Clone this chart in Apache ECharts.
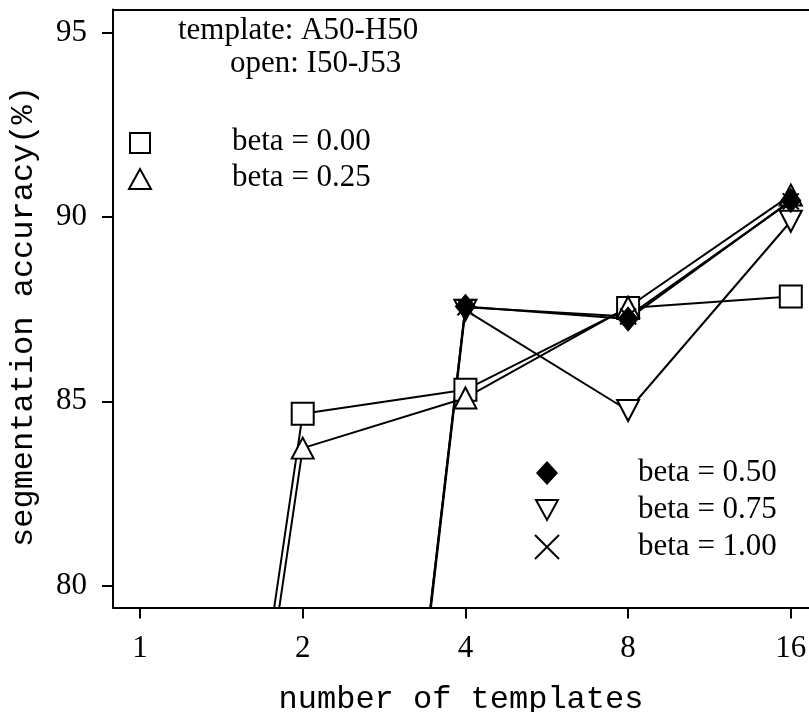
<!DOCTYPE html>
<html>
<head>
<meta charset="utf-8">
<script src="https://cdn.jsdelivr.net/npm/echarts@6/dist/echarts.min.js"></script>
<style>
  html, body { margin: 0; padding: 0; background: #fff; }
  #chart { width: 809px; height: 712px; }
</style>
</head>
<body>
<div id="chart"></div>
<script>
// Number of templates (x) and segmentation accuracy in % (y) for each beta
const templates = [1, 2, 4, 8, 16];
const betaNames = ['beta = 0.00', 'beta = 0.25', 'beta = 0.50', 'beta = 0.75', 'beta = 1.00'];
const acc000 = [54.7, 84.66, 85.31, 87.53, 87.84];
const acc025 = [53.7, 83.73, 85.09, 87.55, 90.59];
const acc050 = [null, 49.6, 87.57, 87.23, 90.44];
const acc075 = [null, 49.4, 87.47, 84.75, 89.88];
const acc100 = [null, 49.8, 87.55, 87.30, 90.42];
const xTickValues = [1, 2, 4, 8, 16];
const yTickValues = [80, 85, 90, 95];
const noteLines = ['template: A50-H50', 'open: I50-J53'];

const SERIF = "'Liberation Serif', 'Times New Roman', serif";
const MONO = "'Liberation Mono', 'Courier New', monospace";
const TEXT_FONT = '31px ' + SERIF;

function pairs(values) {
  const out = [];
  templates.forEach((t, i) => { if (values[i] != null) out.push([t, values[i]]); });
  return out;
}

const openMarker = { color: '#fff', borderColor: '#000', borderWidth: 2 };
function lineSeries(name, values, symbol, size, itemStyle, extra) {
  return Object.assign({
    name: name,
    type: 'line',
    xAxisIndex: 0,
    yAxisIndex: 0,
    data: pairs(values),
    symbol: symbol,
    symbolSize: size,
    showAllSymbol: true,
    clip: true,
    lineStyle: { color: '#000', width: 2 },
    itemStyle: itemStyle,
    emphasis: { disabled: true },
    animation: false
  }, extra || {});
}

const series = [
  lineSeries(betaNames[0], acc000, 'rect', 22, openMarker),
  lineSeries(betaNames[1], acc025, 'triangle', [22, 21], openMarker),
  lineSeries(betaNames[3], acc075, 'triangle', [22, 21], openMarker, { symbolRotate: 180 }),
  lineSeries(betaNames[4], acc100, 'path://M0,0L10,10M10,0L0,10', 16,
    { color: 'none', borderColor: '#000', borderWidth: 2 }),
  lineSeries(betaNames[2], acc050, 'diamond', [20, 24],
    { color: '#000', borderColor: '#000', borderWidth: 1 })
];

// notes and legend keys
function label(text, x, y) {
  return { type: 'text', x: x, y: y, style: { text: text, font: TEXT_FONT, fill: '#000', verticalAlign: 'middle' } };
}
const keyStroke = { stroke: '#000', lineWidth: 2, fill: '#fff' };
const graphic = [
  label(noteLines[0], 178, 31),
  label(noteLines[1], 230, 64),

  { type: 'rect', shape: { x: 130, y: 133, width: 20, height: 20 }, style: keyStroke },
  label(betaNames[0], 232, 142),
  { type: 'polygon', shape: { points: [[129, 189], [140, 169], [151, 189]] }, style: keyStroke },
  label(betaNames[1], 232, 178),

  { type: 'polygon', shape: { points: [[547, 461], [558, 473], [547, 485], [536, 473]] }, style: { fill: '#000' } },
  label(betaNames[2], 638, 473),
  { type: 'polygon', shape: { points: [[536, 500], [558, 500], [547, 520]] }, style: keyStroke },
  label(betaNames[3], 638, 510),
  { type: 'polyline', shape: { points: [[535, 535], [559, 559]] }, style: { stroke: '#000', lineWidth: 2 } },
  { type: 'polyline', shape: { points: [[559, 535], [535, 559]] }, style: { stroke: '#000', lineWidth: 2 } },
  label(betaNames[4], 638, 547)
];

const chart = echarts.init(document.getElementById('chart'), null, { renderer: 'canvas' });
chart.setOption({
  backgroundColor: '#fff',
  animation: false,
  grid: {
    left: 113, top: 9.5, width: 696, height: 598,
    outerBoundsMode: 'none',
    show: false
  },
  xAxis: [{
    type: 'log',
    logBase: 2,
    min: 0.8913,
    max: 17.29,
    name: 'number of templates',
    nameLocation: 'middle',
    nameGap: 76,
    nameTextStyle: { fontFamily: MONO, fontSize: 32, color: '#000' },
    axisLine: { show: true, lineStyle: { color: '#000', width: 2 } },
    axisTick: { show: true, length: 11, lineStyle: { color: '#000', width: 2 }, customValues: xTickValues },
    axisLabel: { customValues: xTickValues, margin: 26, fontFamily: SERIF, fontSize: 31, color: '#000' },
    splitLine: { show: false }
  }, {
    // top frame line
    type: 'value',
    position: 'top',
    min: 0,
    max: 1,
    axisLine: { show: true, onZero: false, lineStyle: { color: '#000', width: 2 } },
    axisTick: { show: false },
    axisLabel: { show: false },
    splitLine: { show: false }
  }],
  yAxis: {
    type: 'value',
    min: 79.41,
    max: 95.62,
    name: 'segmentation accuracy(%)',
    nameLocation: 'middle',
    nameGap: 73,
    nameTextStyle: { fontFamily: MONO, fontSize: 32, color: '#000', padding: [0, 16, 0, 0] },
    axisLine: { show: true, lineStyle: { color: '#000', width: 2 } },
    axisTick: { show: true, length: 11, lineStyle: { color: '#000', width: 2 }, customValues: yTickValues },
    axisLabel: { customValues: yTickValues, margin: 26, fontFamily: SERIF, fontSize: 31, color: '#000' },
    splitLine: { show: false }
  },
  series: series,
  graphic: graphic
});
</script>
</body>
</html>
